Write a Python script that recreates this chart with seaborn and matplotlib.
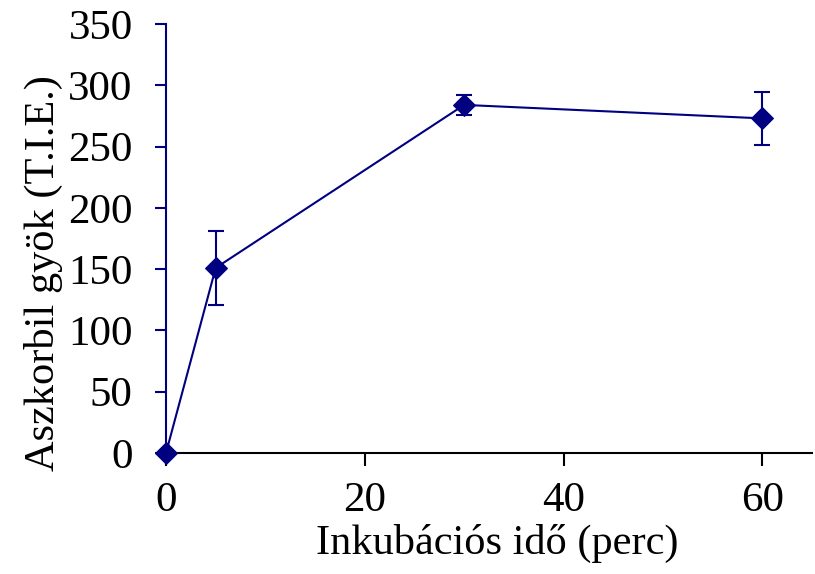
import matplotlib
matplotlib.use("Agg")
import matplotlib.pyplot as plt
import seaborn as sns
import pandas as pd

time_min = [0, 5, 30, 60]
radical = [0, 151, 284, 273]
err = [0, 30.5, 8, 21.5]

sns.set_style("ticks")
plt.rcParams['font.family'] = ['Liberation Serif', 'DejaVu Serif']

df = pd.DataFrame({"t": time_min, "r": radical, "e": err})

W, H = 815, 574
fig = plt.figure(figsize=(W / 100, H / 100), dpi=100)
x0, x1, y0, y1 = 166, 812, 453, 24
ax = fig.add_axes([x0 / W, 1 - y0 / H, (x1 - x0) / W, (y0 - y1) / H])
color = "#000080"
sns.lineplot(data=df, x="t", y="r", ax=ax, color=color, marker="D", markersize=11,
             markeredgecolor=color, linewidth=1.5, clip_on=False, zorder=3)
ax.errorbar(df["t"], df["r"], yerr=df["e"], fmt="none", ecolor=color, elinewidth=1.5,
            capsize=5.5, capthick=1.5, clip_on=False, zorder=2)

ax.set_xlim(0, 65)
ax.set_ylim(0, 350)
ax.set_xticks([0, 20, 40, 60])
ax.set_yticks(range(0, 351, 50))
ax.tick_params(axis="both", labelsize=31, direction="out", width=1.5, labelcolor="black")
ax.tick_params(axis="x", length=9.5, color="black", pad=11)
ax.tick_params(axis="y", length=8, color=color, pad=16)
ax.spines["left"].set_linewidth(1.5)
ax.spines["left"].set_color(color)
ax.spines["bottom"].set_linewidth(1.5)
ax.spines["bottom"].set_color("black")
sns.despine(ax=ax)
ax.set_xlabel("Inkubációs idő (perc)", fontsize=30.5, labelpad=3, color="black")
ax.set_ylabel("Aszkorbil gyök (T.I.E.)", fontsize=30.5, labelpad=4, color="black")
ax.xaxis.label.set_x(0.513)
ax.yaxis.label.set_y(0.42)

fig.savefig("out.png", dpi=100)
